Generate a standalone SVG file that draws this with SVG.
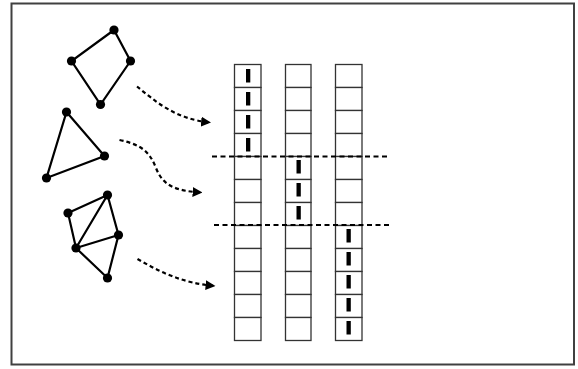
<svg xmlns="http://www.w3.org/2000/svg" width="578" height="369" viewBox="0 0 578 369">
  <defs>
    <marker id="head" viewBox="0 0 10 10" refX="9" refY="5" markerWidth="4.5" markerHeight="4.5" markerUnits="strokeWidth" orient="auto">
      <path d="M0,0 L10,5 L0,10 z" fill="#000"/>
    </marker>
  </defs>
  <style>
    .frame { fill: #fff; stroke: #404040; stroke-width: 2; }
    .edge { stroke: #000; stroke-width: 2.2; fill: none; }
    .vtx { fill: #000; }
    .cell { fill: #fff; stroke: #333; stroke-width: 1.3; }
    .mark { fill: #000; }
    .cut { stroke: #000; stroke-width: 2; stroke-dasharray: 5 3.5; fill: none; }
    .flow { stroke: #000; stroke-width: 2.2; stroke-dasharray: 4 3; fill: none; marker-end: url(#head); }
  </style>

  <rect class="frame" x="11.5" y="3.5" width="562.5" height="361"/>

  <!-- graph 1: quadrilateral -->
  <g id="graph-quad">
    <path class="edge" d="M114,30 L130.5,61 L100.5,104.5 L71.5,61 Z"/>
    <circle class="vtx" cx="114" cy="30" r="4.6"/>
    <circle class="vtx" cx="130.5" cy="61" r="4.6"/>
    <circle class="vtx" cx="100.5" cy="104.5" r="4.6"/>
    <circle class="vtx" cx="71.5" cy="61" r="4.6"/>
  </g>

  <!-- graph 2: triangle -->
  <g id="graph-tri">
    <path class="edge" d="M66.5,112 L104.5,156 L46.5,178 Z"/>
    <circle class="vtx" cx="66.5" cy="112" r="4.6"/>
    <circle class="vtx" cx="104.5" cy="156" r="4.6"/>
    <circle class="vtx" cx="46.5" cy="178" r="4.6"/>
  </g>

  <!-- graph 3: triangulated mesh -->
  <g id="graph-mesh">
    <path class="edge" d="M68,213 L107.5,195 L118.5,235 L107.5,278 L76,248 Z M76,248 L107.5,195 M76,248 L118.5,235"/>
    <circle class="vtx" cx="68" cy="213" r="4.6"/>
    <circle class="vtx" cx="107.5" cy="195" r="4.6"/>
    <circle class="vtx" cx="118.5" cy="235" r="4.6"/>
    <circle class="vtx" cx="76" cy="248" r="4.6"/>
    <circle class="vtx" cx="107.5" cy="278" r="4.6"/>
  </g>

  <!-- column 1 -->
  <g id="col-1">
    <rect class="cell" x="234.5" y="64.5" width="26.5" height="23"/>
    <rect class="cell" x="234.5" y="87.5" width="26.5" height="23"/>
    <rect class="cell" x="234.5" y="110.5" width="26.5" height="23"/>
    <rect class="cell" x="234.5" y="133.5" width="26.5" height="23"/>
    <rect class="cell" x="234.5" y="156.5" width="26.5" height="23"/>
    <rect class="cell" x="234.5" y="179.5" width="26.5" height="23"/>
    <rect class="cell" x="234.5" y="202.5" width="26.5" height="23"/>
    <rect class="cell" x="234.5" y="225.5" width="26.5" height="23"/>
    <rect class="cell" x="234.5" y="248.5" width="26.5" height="23"/>
    <rect class="cell" x="234.5" y="271.5" width="26.5" height="23"/>
    <rect class="cell" x="234.5" y="294.5" width="26.5" height="23"/>
    <rect class="cell" x="234.5" y="317.5" width="26.5" height="23"/>
    <rect class="mark" x="246" y="69" width="4.3" height="13.5"/>
    <rect class="mark" x="246" y="92" width="4.3" height="13.5"/>
    <rect class="mark" x="246" y="115" width="4.3" height="13.5"/>
    <rect class="mark" x="246" y="138" width="4.3" height="13.5"/>
  </g>

  <!-- column 2 -->
  <g id="col-2">
    <rect class="cell" x="285.5" y="64.5" width="25.5" height="23"/>
    <rect class="cell" x="285.5" y="87.5" width="25.5" height="23"/>
    <rect class="cell" x="285.5" y="110.5" width="25.5" height="23"/>
    <rect class="cell" x="285.5" y="133.5" width="25.5" height="23"/>
    <rect class="cell" x="285.5" y="156.5" width="25.5" height="23"/>
    <rect class="cell" x="285.5" y="179.5" width="25.5" height="23"/>
    <rect class="cell" x="285.5" y="202.5" width="25.5" height="23"/>
    <rect class="cell" x="285.5" y="225.5" width="25.5" height="23"/>
    <rect class="cell" x="285.5" y="248.5" width="25.5" height="23"/>
    <rect class="cell" x="285.5" y="271.5" width="25.5" height="23"/>
    <rect class="cell" x="285.5" y="294.5" width="25.5" height="23"/>
    <rect class="cell" x="285.5" y="317.5" width="25.5" height="23"/>
    <rect class="mark" x="296.5" y="160" width="4.3" height="13.5"/>
    <rect class="mark" x="296.5" y="183" width="4.3" height="13.5"/>
    <rect class="mark" x="296.5" y="206" width="4.3" height="13.5"/>
  </g>

  <!-- column 3 -->
  <g id="col-3">
    <rect class="cell" x="335.5" y="64.5" width="26.5" height="23"/>
    <rect class="cell" x="335.5" y="87.5" width="26.5" height="23"/>
    <rect class="cell" x="335.5" y="110.5" width="26.5" height="23"/>
    <rect class="cell" x="335.5" y="133.5" width="26.5" height="23"/>
    <rect class="cell" x="335.5" y="156.5" width="26.5" height="23"/>
    <rect class="cell" x="335.5" y="179.5" width="26.5" height="23"/>
    <rect class="cell" x="335.5" y="202.5" width="26.5" height="23"/>
    <rect class="cell" x="335.5" y="225.5" width="26.5" height="23"/>
    <rect class="cell" x="335.5" y="248.5" width="26.5" height="23"/>
    <rect class="cell" x="335.5" y="271.5" width="26.5" height="23"/>
    <rect class="cell" x="335.5" y="294.5" width="26.5" height="23"/>
    <rect class="cell" x="335.5" y="317.5" width="26.5" height="23"/>
    <rect class="mark" x="346.5" y="229" width="4.3" height="13.5"/>
    <rect class="mark" x="346.5" y="252" width="4.3" height="13.5"/>
    <rect class="mark" x="346.5" y="275" width="4.3" height="13.5"/>
    <rect class="mark" x="346.5" y="298" width="4.3" height="13.5"/>
    <rect class="mark" x="346.5" y="321" width="4.3" height="13.5"/>
  </g>

  <!-- partition cuts -->
  <g id="cuts">
    <line class="cut" x1="212" y1="156.5" x2="388" y2="156.5"/>
    <line class="cut" x1="214" y1="225" x2="389" y2="225"/>
  </g>

  <!-- connectors -->
  <g id="connectors">
    <path class="flow" d="M137,86.5 C155,101 175,119 210,122.5"/>
    <path class="flow" d="M119.5,140 C143,145 150,153 156,168 C163,186 176,191 201.5,192.5"/>
    <path class="flow" d="M137.5,259 C160,272 182,283 214.5,286"/>
  </g>
</svg>
